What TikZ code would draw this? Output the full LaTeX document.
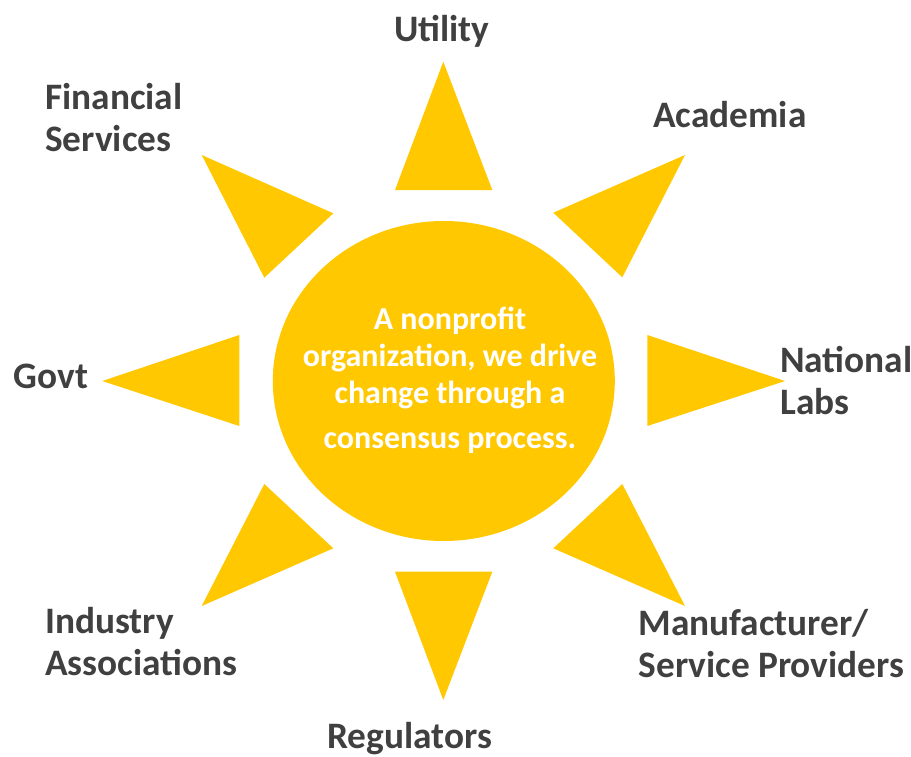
\documentclass[tikz,border=0pt]{standalone}
\usepackage{fontspec}
\setmainfont{Carlito}
\definecolor{sungold}{HTML}{FFC800}
\definecolor{labelgray}{HTML}{404040}
\tikzset{
  ray/.style={fill=sungold, draw=none},
  lbl/.style={text=labelgray, font=\bfseries\fontsize{28}{31.5}\selectfont, inner sep=0pt, align=left},
  core/.style={text=white, font=\bfseries\fontsize{24}{27.75}\selectfont, inner sep=0pt, align=center}
}
\begin{document}
\begin{tikzpicture}[x=0.75pt, y=-0.75pt]
\useasboundingbox (0,0) rectangle (911,757);
% center sun
\fill[sungold] (443.8,381) ellipse [x radius=171, y radius=160];
\coordinate (c) at (443.8,381);
% rays
\fill[ray] (443.3,61.7) -- (395,190) -- (492.3,190) -- cycle;
\fill[ray] (443.3,700) -- (395,571.7) -- (492.3,571.7) -- cycle;
\fill[ray] (785,381) -- (647.3,335) -- (647.3,426) -- cycle;
\fill[ray] (102.3,381) -- (239.3,335) -- (239.3,426) -- cycle;
\fill[ray] (685,155) -- (553.3,212.7) -- (622.3,277.3) -- cycle;
\fill[ray] (201.7,155) -- (333.3,213.3) -- (264.3,277.7) -- cycle;
\fill[ray] (685,606) -- (553.3,548.3) -- (622.3,484) -- cycle;
\fill[ray] (201.7,606) -- (333.3,548.3) -- (264.3,484) -- cycle;
% center text (base anchor = last line)
\node[core, anchor=base] (mission) at (450,448.3)
  {A nonprofit\\organization, we drive\\change through a\\[6pt]consensus process.};
% labels (base anchor = last line)
\node[lbl, anchor=base] (utility) at (442,41.7) {Utility};
\node[lbl, anchor=base west] (academia) at (653,127) {Academia};
\node[lbl, anchor=base west] (labs) at (780,414) {National\\Labs};
\node[lbl, anchor=base west] (manuf) at (638.3,677.3) {Manufacturer/\\Service Providers};
\node[lbl, anchor=base west] (reg) at (327,748) {Regulators};
\node[lbl, anchor=base west] (industry) at (45,675) {Industry\\Associations};
\node[lbl, anchor=base west] (govt) at (13.3,388.3) {Govt};
\node[lbl, anchor=base west] (fin) at (45,151.7) {Financial\\Services};
\end{tikzpicture}
\end{document}
